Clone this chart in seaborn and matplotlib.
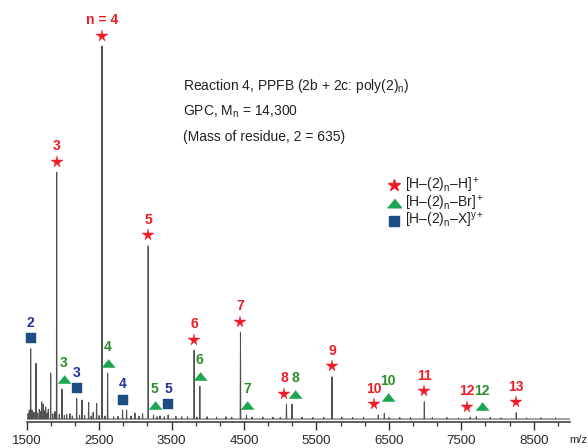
import numpy as np
import pandas as pd
import matplotlib
matplotlib.use("Agg")
import matplotlib.pyplot as plt
import seaborn as sns
from matplotlib.lines import Line2D
from matplotlib.ticker import AutoMinorLocator
from matplotlib.transforms import offset_copy

# ---------------- data ----------------
h_n = [3, 4, 5, 6, 7, 8, 9, 10, 11, 12, 13]
h_mz = [1914, 2540, 3177, 3811, 4451, 5086, 5715, 6354, 6989, 7623, 8258]
h_int = [66.2, 100.0, 46.4, 18.5, 23.3, 4.0, 11.3, 1.1, 4.6, 0.5, 1.7]

br_n = [3, 4, 5, 6, 7, 8, 10, 12]
br_mz = [1987, 2617, 3251, 3890, 4534, 5163, 6437, 7706]
br_int = [8.0, 12.3, 1.0, 8.8, 1.0, 4.0, 1.5, 0.6]

x_n = [2, 3, 4, 5]
x_mz = [1555, 2190, 2824, 3453]
x_int = [18.8, 5.5, 2.4, 1.1]

minor_mz = [1520, 1536, 1573, 1600, 1628, 1650, 1674, 1690, 1707, 1729, 1745, 1762,
            1780, 1798, 1831, 1860, 1890, 1950, 2020, 2052, 2097, 2130, 2230, 2263,
            2300, 2355, 2390, 2418, 2465, 2500, 2580, 2700, 2760, 2879, 2940, 2994,
            3050, 3100, 3300, 3340, 3400, 3560, 3640, 3720, 3850, 3990, 4120, 4250,
            4330, 4610, 4760, 4900, 5000, 5300, 5450, 5600, 5850, 6000, 6150, 6500,
            6650, 6800, 7100, 7300, 7460, 7900, 8050, 8400, 8600, 8800]
minor_int = [1.5, 2.4, 2.4, 1.8, 14.9, 1.6, 2.6, 2.0, 4.6, 4.0, 2.2, 3.2,
             1.6, 2.6, 12.3, 1.4, 2.0, 1.2, 1.0, 1.2, 1.4, 0.8, 1.0, 5.1,
             0.9, 4.4, 0.8, 1.8, 4.2, 0.9, 0.8, 0.6, 0.7, 2.4, 0.8, 1.6,
             0.7, 1.4, 0.6, 0.8, 0.6, 0.7, 0.6, 0.6, 0.5, 0.6, 0.5, 0.6,
             0.5, 0.5, 0.5, 0.5, 0.4, 0.5, 0.4, 0.4, 0.5, 0.4, 0.4, 0.4,
             0.4, 0.4, 0.4, 0.4, 0.3, 0.4, 0.3, 0.3, 0.3, 0.3]

xtick_vals = [1500, 2500, 3500, 4500, 5500, 6500, 7500, 8500]

info_lines = [r"Reaction 4, PPFB (2b + 2c: poly(2)$_\mathrm{n}$)",
              r"GPC, M$_\mathrm{n}$ = 14,300",
              "(Mass of residue, 2 = 635)"]
legend_labels = [r"[H–(2)$_\mathrm{n}$–H]$^+$",
                 r"[H–(2)$_\mathrm{n}$–Br]$^+$",
                 r"[H–(2)$_\mathrm{n}$–X]$^{\mathrm{y}+}$"]

# ---------------- style ----------------
sns.set_theme(style="white")
plt.rcParams["font.family"] = ["Liberation Sans", "DejaVu Sans"]
plt.rcParams["mathtext.fontset"] = "custom"
plt.rcParams["mathtext.rm"] = "Liberation Sans"
plt.rcParams["mathtext.it"] = "Liberation Sans:italic"
plt.rcParams["mathtext.bf"] = "Liberation Sans:bold"

RED = "#ee1c25"
GREEN_M = "#1aa650"
GREEN_T = "#2b8c2b"
BLUE_M = "#1e4d86"
BLUE_T = "#22309a"
LINE = "#505050"

PX = 0.72  # points per pixel at dpi 100

tri = [(-1, -0.62), (1, -0.62), (0, 0.62)]

fig = plt.figure(figsize=(5.88, 4.48), dpi=100)
ax = fig.add_axes([26.7 / 588, 26 / 448, (570 - 26.7) / 588, (422 - 8) / 448])

# build the stick spectrum profile from the peak lists
all_mz = h_mz + br_mz + x_mz + minor_mz
all_int = h_int + br_int + x_int + minor_int
order = np.argsort(all_mz)
xs, ys = [1500], [0.0]
hw = 4
for i in order:
    m, v = all_mz[i], all_int[i]
    xs += [m - hw, m, m + hw]
    ys += [0.0, v, 0.0]
xs.append(9000)
ys.append(0.0)
spec = pd.DataFrame({"mz": xs, "intensity": ys})
sns.lineplot(data=spec, x="mz", y="intensity", sort=False, estimator=None,
             color=LINE, lw=0.75, ax=ax)

ax.set_xlim(1500, 9000)
ax.set_ylim(-0.8, 110.2)
ax.set_xlabel("")
ax.set_ylabel("")
ax.set_yticks([])
for s in ["top", "left", "right"]:
    ax.spines[s].set_visible(False)
ax.spines["bottom"].set_color("#333333")
ax.spines["bottom"].set_linewidth(1.1)
ax.set_xticks(xtick_vals)
ax.set_xticklabels([str(v) for v in xtick_vals])
ax.xaxis.set_minor_locator(AutoMinorLocator(3))
ax.tick_params(axis="x", which="major", direction="out", length=5.8, width=1.0,
               color="#333333", labelsize=9.5, pad=3.5, bottom=True)
ax.tick_params(axis="x", which="minor", direction="out", length=3, width=0.9,
               color="#333333", bottom=True)

# marker / label nudges in pixels (dx, extra dy)
h_nudge = {8: (-2, 0), 10: (-4, 0), 12: (-3, 0)}
br_nudge = {3: (2, 0), 5: (1, 0), 7: (1, 0), 8: (3, 0), 10: (4, 6), 12: (6, 0)}
x_nudge = {}

MARK_DY = 10.5  # px above peak top
LABEL_DY = 26   # px above peak top


def annotate_series(ns, mzs, ints, marker, msize, mcolor, tcolor, nudges, fmt):
    for n, m, v in zip(ns, mzs, ints):
        dx, ddy = nudges.get(n, (0, 0))
        tr = offset_copy(ax.transData, fig=fig, x=dx * PX, y=(MARK_DY + ddy) * PX,
                         units="points")
        ax.plot([m], [v], marker=marker, ms=msize, color=mcolor, mec=mcolor,
                mew=0.3, ls="none", transform=tr, clip_on=False, zorder=5)
        ax.annotate(fmt(n), (m, v), xytext=(dx * PX, (LABEL_DY + ddy) * PX),
                    textcoords="offset points", ha="center", va="center",
                    color=tcolor, fontsize=10, fontweight="bold",
                    annotation_clip=False, zorder=6)


annotate_series(h_n, h_mz, h_int, "*", 8.5, RED, RED, h_nudge,
                lambda n: "n = 4" if n == 4 else str(n))
annotate_series(br_n, br_mz, br_int, tri, 9.5, GREEN_M, GREEN_T, br_nudge, str)
annotate_series(x_n, x_mz, x_int, "s", 7.2, BLUE_M, BLUE_T, x_nudge, str)

# info text
for i, t in enumerate(info_lines):
    fig.text(182.7 / 588, 1 - (86 + 25.5 * i) / 448, t, ha="left", va="center",
             fontsize=10, color="#222222")

# legend (manual)
leg_markers = [("*", 9.0, RED), (tri, 10.0, GREEN_M), ("s", 7.5, BLUE_M)]
for i, ((mk, ms, col), lab) in enumerate(zip(leg_markers, legend_labels)):
    yy = 1 - (185 + 18 * i) / 448
    fig.add_artist(Line2D([394 / 588], [yy], marker=mk, ms=ms, color=col, mec=col,
                          ls="none", transform=fig.transFigure))
    fig.text(405 / 588, yy, lab, ha="left", va="center", fontsize=10,
             color="#222222")

fig.text(587 / 588, 1 - 440 / 448, "m/z", ha="right", va="center", fontsize=8,
         color="#222222")

fig.savefig("out.png", dpi=100)
